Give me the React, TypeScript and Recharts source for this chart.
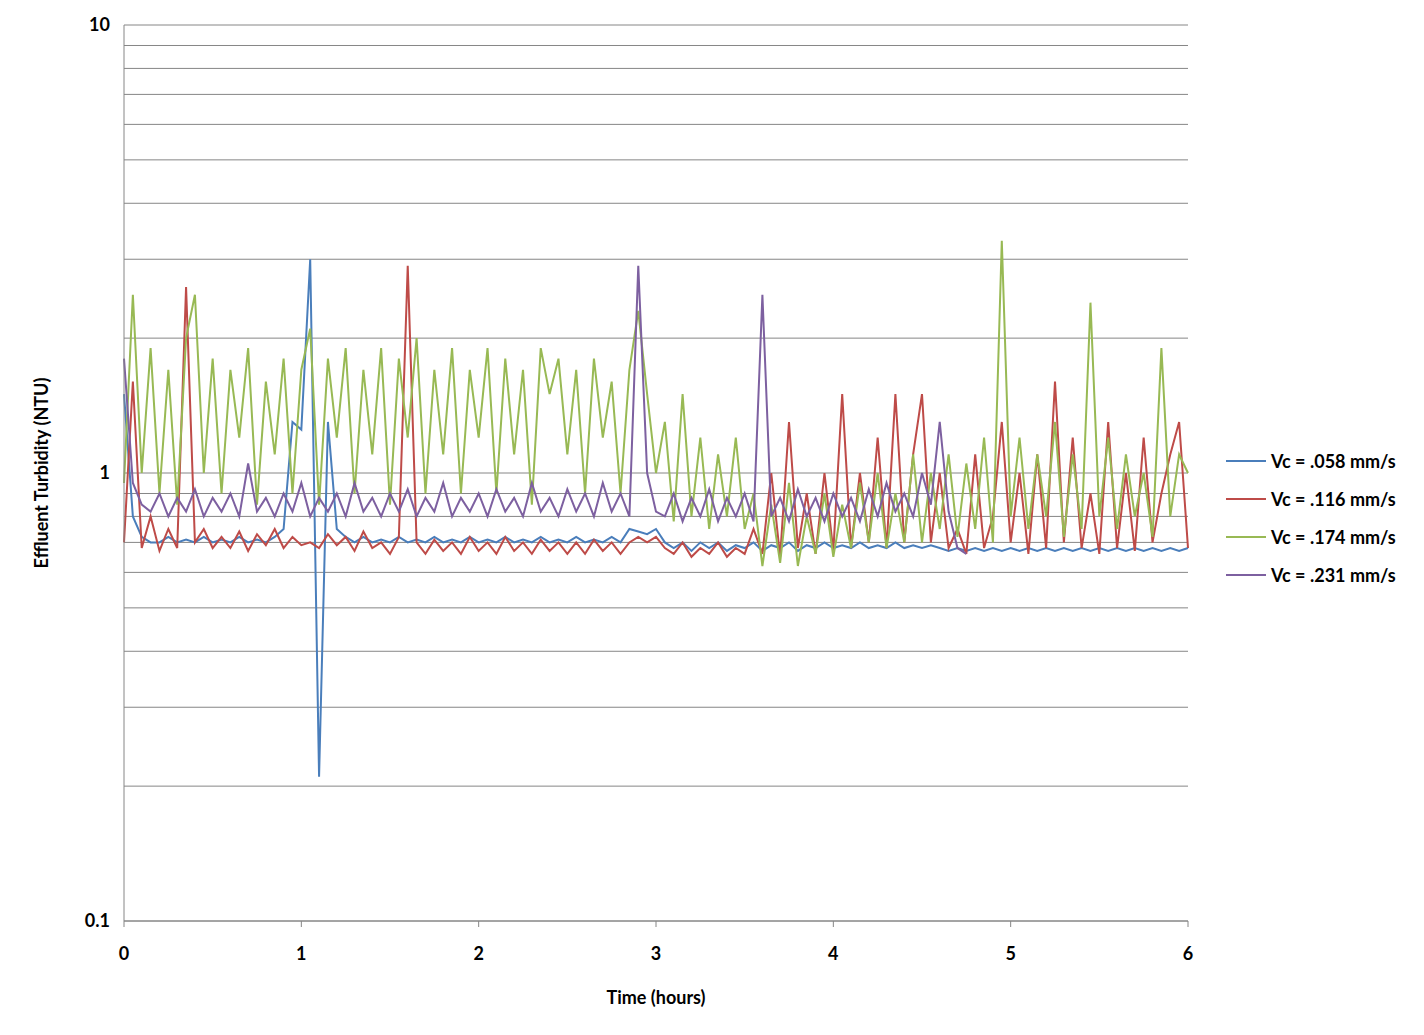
import { LineChart, Line, XAxis, YAxis, CartesianGrid, Label } from "recharts";

// sampled every 0.05 h from 0 to 6 h
const STEP = 0.05;

const vc058 = [
  1.5, 0.8, 0.72, 0.7, 0.7, 0.72, 0.7, 0.71, 0.7, 0.72, 0.7,
  0.71, 0.7, 0.72, 0.7, 0.71, 0.7, 0.72, 0.75, 1.3, 1.25,
  3.0, 0.21, 1.3, 0.75, 0.72, 0.7, 0.72, 0.7, 0.71, 0.7,
  0.72, 0.7, 0.71, 0.7, 0.72, 0.7, 0.71, 0.7, 0.72, 0.7,
  0.71, 0.7, 0.72, 0.7, 0.71, 0.7, 0.72, 0.7, 0.71, 0.7,
  0.72, 0.7, 0.71, 0.7, 0.72, 0.7, 0.75, 0.74, 0.73, 0.75,
  0.7, 0.68, 0.7, 0.67, 0.7, 0.68, 0.7, 0.67, 0.69, 0.68,
  0.7, 0.67, 0.69, 0.68, 0.7, 0.67, 0.69, 0.68, 0.7, 0.68,
  0.69, 0.68, 0.7, 0.68, 0.69, 0.68, 0.7, 0.68, 0.69, 0.68,
  0.69, 0.68, 0.67, 0.68, 0.67, 0.68, 0.67, 0.68, 0.67, 0.68,
  0.67, 0.68, 0.67, 0.68, 0.67, 0.68, 0.67, 0.68, 0.67, 0.68,
  0.67, 0.68, 0.67, 0.68, 0.67, 0.68, 0.67, 0.68, 0.67, 0.68,
];

const vc116 = [
  0.7, 1.6, 0.68, 0.8, 0.67, 0.75, 0.68, 2.6, 0.7, 0.75, 0.68,
  0.72, 0.68, 0.74, 0.67, 0.73, 0.69, 0.75, 0.68, 0.72, 0.69,
  0.7, 0.68, 0.73, 0.69, 0.72, 0.67, 0.74, 0.68, 0.7, 0.66,
  0.72, 2.9, 0.7, 0.66, 0.71, 0.67, 0.7, 0.66, 0.72, 0.67,
  0.7, 0.66, 0.72, 0.67, 0.7, 0.66, 0.71, 0.67, 0.7, 0.66,
  0.7, 0.66, 0.71, 0.67, 0.7, 0.66, 0.7, 0.72, 0.7, 0.72,
  0.68, 0.66, 0.7, 0.65, 0.68, 0.66, 0.7, 0.65, 0.68, 0.66,
  0.75, 0.66, 1.0, 0.65, 1.3, 0.68, 0.9, 0.66, 1.0, 0.67,
  1.5, 0.68, 1.0, 0.7, 1.2, 0.68, 1.5, 0.7, 1.1, 1.5,
  0.7, 1.0, 0.68, 0.75, 0.66, 1.1, 0.68, 0.8, 1.3, 0.7,
  1.0, 0.66, 1.1, 0.68, 1.6, 0.7, 1.2, 0.68, 0.9, 0.66,
  1.3, 0.68, 1.0, 0.67, 1.2, 0.7, 0.9, 1.1, 1.3, 0.68,
];

const vc174 = [
  0.95, 2.5, 1.0, 1.9, 0.9, 1.7, 0.85, 2.0, 2.5, 1.0, 1.8,
  0.9, 1.7, 1.2, 1.9, 0.85, 1.6, 1.1, 1.8, 0.9, 1.7,
  2.1, 0.85, 1.8, 1.2, 1.9, 0.9, 1.7, 1.1, 1.9, 0.85,
  1.8, 1.2, 2.0, 0.9, 1.7, 1.1, 1.9, 0.9, 1.7, 1.2,
  1.9, 0.9, 1.8, 1.1, 1.7, 0.85, 1.9, 1.5, 1.8, 1.1,
  1.7, 0.9, 1.8, 1.2, 1.6, 0.9, 1.7, 2.3, 1.5, 1.0,
  1.3, 0.78, 1.5, 0.8, 1.2, 0.75, 1.1, 0.8, 1.2, 0.75,
  0.9, 0.62, 0.85, 0.63, 0.95, 0.62, 0.8, 0.66, 0.9, 0.65,
  0.85, 0.68, 0.95, 0.7, 1.0, 0.68, 0.9, 0.7, 1.1, 0.7,
  1.0, 0.75, 1.1, 0.72, 1.05, 0.75, 1.2, 0.7, 3.3, 0.8,
  1.2, 0.75, 1.1, 0.8, 1.3, 0.72, 1.1, 0.75, 2.4, 0.8,
  1.2, 0.75, 1.1, 0.8, 1.0, 0.72, 1.9, 0.8, 1.1, 1.0,
];

// ends near 4.75 h
const vc231 = [
  1.8, 0.95, 0.85, 0.82, 0.9, 0.8, 0.88, 0.82, 0.92, 0.8, 0.88,
  0.82, 0.9, 0.8, 1.05, 0.82, 0.88, 0.8, 0.9, 0.82, 0.95,
  0.8, 0.88, 0.82, 0.9, 0.8, 0.95, 0.82, 0.88, 0.8, 0.9,
  0.82, 0.92, 0.8, 0.88, 0.82, 0.95, 0.8, 0.88, 0.82, 0.9,
  0.8, 0.92, 0.82, 0.88, 0.8, 0.95, 0.82, 0.88, 0.8, 0.92,
  0.82, 0.9, 0.8, 0.95, 0.82, 0.9, 0.8, 2.9, 1.0, 0.82,
  0.8, 0.9, 0.78, 0.88, 0.8, 0.92, 0.78, 0.88, 0.8, 0.9,
  0.78, 2.5, 0.8, 0.88, 0.78, 0.92, 0.8, 0.88, 0.78, 0.9,
  0.8, 0.88, 0.78, 0.92, 0.8, 0.95, 0.82, 0.9, 0.8, 1.0,
  0.85, 1.3, 0.82, 0.68, 0.66,
];

const xTicks = [0, 1, 2, 3, 4, 5, 6];
const yTicks = [0.1, 0.2, 0.3, 0.4, 0.5, 0.6, 0.7, 0.8, 0.9, 1, 2, 3, 4, 5, 6, 7, 8, 9, 10];

const SERIES = [
  { key: "a", name: "Vc = .058 mm/s", values: vc058, color: "#4A7EBB" },
  { key: "b", name: "Vc = .116 mm/s", values: vc116, color: "#BE4B48" },
  { key: "c", name: "Vc = .174 mm/s", values: vc174, color: "#98B954" },
  { key: "d", name: "Vc = .231 mm/s", values: vc231, color: "#7D60A0" },
];

const data = vc174.map((_, i) => {
  const row: Record<string, number | null> = { t: Math.round(i * STEP * 100) / 100 };
  for (const s of SERIES) row[s.key] = s.values[i] ?? null;
  return row;
});

const FONT = "Lato, 'Open Sans', sans-serif";
const tickStyle = { fontSize: 18, fontWeight: 700, fill: "#000", fontFamily: FONT };

export default function App() {
  return (
    <div style={{ position: "relative", width: 1410, height: 1020 }}>
      <LineChart width={1410} height={1020} data={data} margin={{ top: 17, right: 230, left: 0, bottom: 67 }}>
        <CartesianGrid vertical={false} stroke="#868686" strokeWidth={1} />
        <XAxis
          dataKey="t"
          type="number"
          domain={[0, 6]}
          ticks={xTicks}
          height={40}
          stroke="#868686"
          tickSize={6}
          tick={tickStyle}
          tickMargin={20}
        >
          <Label value="Time (hours)" position="bottom" offset={30} style={tickStyle} />
        </XAxis>
        <YAxis
          scale="log"
          domain={[0.1, 10]}
          ticks={yTicks}
          allowDataOverflow
          width={116}
          stroke="#868686"
          tickLine={false}
          tick={tickStyle}
          tickMargin={8}
          tickFormatter={(v: number) => (v === 0.1 || v === 1 || v === 10 ? String(v) : "")}
        >
          <Label
            value="Effluent Turbidity (NTU)"
            angle={-90}
            position="insideLeft"
            offset={34}
            style={{ ...tickStyle, textAnchor: "middle" }}
          />
        </YAxis>
        {SERIES.map((s) => (
          <Line
            key={s.key}
            dataKey={s.key}
            stroke={s.color}
            strokeWidth={2}
            dot={false}
            type="linear"
            isAnimationActive={false}
          />
        ))}
      </LineChart>
      <div style={{ position: "absolute", left: 1218, top: 434, fontFamily: FONT, fontWeight: 700, fontSize: 18 }}>
        {SERIES.map((s) => (
          <div key={s.key} style={{ display: "flex", alignItems: "center", height: 38 }}>
            <div style={{ width: 40, height: 2, background: s.color, marginRight: 5 }} />
            <span>{s.name}</span>
          </div>
        ))}
      </div>
    </div>
  );
}
